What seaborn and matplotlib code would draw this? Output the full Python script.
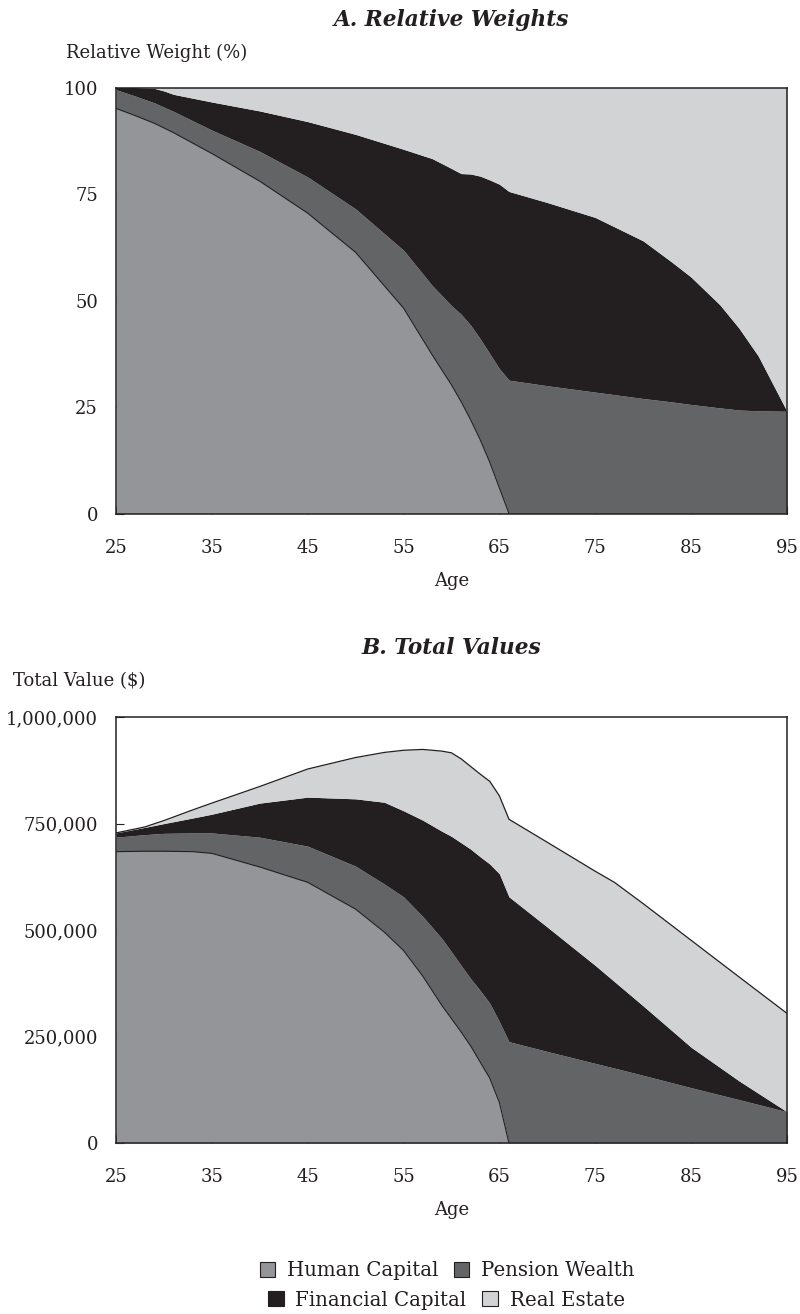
import numpy as np
import matplotlib
matplotlib.use("Agg")
import matplotlib.pyplot as plt
from matplotlib.patches import Patch
from matplotlib.ticker import FuncFormatter
import seaborn as sns

# ---------------- data ----------------
series = ["Human Capital", "Pension Wealth", "Financial Capital", "Real Estate"]
colors = ["#939598", "#636466", "#231f20", "#d1d3d4"]

# Panel A: relative weights (%)
ages_a = [25, 27, 29, 30, 31, 35, 40, 45, 50, 55, 58, 60, 61, 62, 63, 64, 65, 66,
          70, 75, 80, 83, 85, 88, 90, 92, 95]
human_a = [95.1, 93.4, 91.6, 90.5, 89.4, 84.5, 78.0, 70.5, 61.3, 48.2, 37.2, 30.2, 26.3,
           22.0, 17.3, 12.0, 6.0, 0.0, 0, 0, 0, 0, 0, 0, 0, 0, 0]
pension_a = [4.4, 4.6, 4.8, 4.9, 5.0, 5.5, 7.0, 8.5, 10.2, 13.6, 16.3, 18.6, 20.5,
             22.2, 23.7, 25.5, 28.0, 31.3, 30.0, 28.5, 27.0, 26.2, 25.6, 24.8, 24.3, 24.1, 24.0]
financial_a = [0.5, 2.0, 3.4, 3.8, 4.0, 6.6, 9.5, 13.0, 17.5, 23.7, 29.8, 32.2, 33.0,
               35.5, 38.2, 40.8, 43.3, 44.3, 43.0, 41.0, 37.0, 32.8, 29.9, 24.2, 19.2, 12.9, 0.0]
realestate_a = [0.0, 0.0, 0.2, 0.8, 1.6, 3.4, 5.5, 8.0, 11.0, 14.5, 16.7, 19.0, 20.2,
                20.3, 20.8, 21.7, 22.7, 24.4, 27.0, 30.5, 36.0, 41.0, 44.5, 51.0, 56.5, 63.0, 76.0]

# Panel B: total values ($ thousands)
ages_b = [25, 28, 30, 33, 35, 40, 45, 50, 53, 55, 57, 59, 60, 61, 62, 63, 64, 65, 66,
          70, 75, 77, 80, 85, 90, 95]
human_b = [684, 685, 685, 684, 680, 648, 612, 549, 495, 452, 392, 323, 292, 261, 228,
           190, 152, 95, 0, 0, 0, 0, 0, 0, 0, 0]
pension_b = [34, 39, 42, 44, 48, 70, 85, 101, 113, 126, 140, 157, 157, 156, 158, 168,
             176, 190, 238, 215, 187, 176, 159, 130, 102, 73.5]
financial_b = [10, 17, 23, 35, 44, 80, 115, 158, 192, 202, 226, 252, 271, 288, 304, 314,
               327, 347, 340, 292, 230, 203, 163, 95, 44, 0]
realestate_b = [0, 1, 7, 19, 26, 39, 66, 97, 117, 142, 166, 188, 196, 197, 194, 194,
                194, 183, 182, 199, 221, 233, 240, 251, 244, 231]

xticks = [25, 35, 45, 55, 65, 75, 85, 95]
yticks_a = [0, 25, 50, 75, 100]
yticks_b = [0, 250000, 500000, 750000, 1000000]

# ---------------- style ----------------
sns.set_style("white")
plt.rcParams["font.family"] = ["DejaVu Serif"]
FS = 13
INK = "#231f20"

fig = plt.figure(figsize=(8, 13.14), dpi=100)
axA = fig.add_axes([0.145, 0.6092, 0.8387, 0.3242])
axB = fig.add_axes([0.145, 0.1301, 0.8387, 0.3242])


def draw(ax, ages, layers, scale, hc_line, total_line):
    ages = np.asarray(ages, float)
    layers = [np.asarray(l, float) * scale for l in layers]
    ax.stackplot(ages, *layers, colors=colors, linewidth=0, zorder=1)
    hc = layers[0]
    k = int(np.argmax(hc <= 0)) + 1
    if hc_line:
        sns.lineplot(x=ages[:k], y=hc[:k], color=INK, lw=0.8, ax=ax, zorder=3)
    if total_line:
        tot = np.sum(layers, axis=0)
        sns.lineplot(x=ages, y=tot, color=INK, lw=0.9, ax=ax, zorder=3)


draw(axA, ages_a, [human_a, pension_a, financial_a, realestate_a], 1.0, True, False)
draw(axB, ages_b, [human_b, pension_b, financial_b, realestate_b], 1000.0, True, True)

for ax, yt in ((axA, yticks_a), (axB, yticks_b)):
    ax.set_xlim(25, 95)
    ax.set_xticks(xticks)
    ax.set_yticks(yt)
    ax.set_ylim(yt[0], yt[-1])
    ax.set_axisbelow(True)
    ax.tick_params(axis="y", direction="in", length=6, width=0.8, color=INK,
                   labelsize=FS, pad=13, left=True, labelcolor=INK)
    ax.tick_params(axis="x", direction="in", length=6, width=0.8, color=INK,
                   labelsize=FS, pad=18, bottom=True, labelcolor=INK)
    for s in ax.spines.values():
        s.set_visible(True)
        s.set_color(INK)
        s.set_linewidth(1.1)
        s.set_zorder(4)
    ax.set_xlabel("")
    ax.set_ylabel("")
    ax.grid(False)

axB.yaxis.set_major_formatter(FuncFormatter(lambda v, p: f"{int(v):,}"))

H = 1314.0
TFS = 15.6
fig.text(451.5 / 800, 1 - 20 / H, "A. Relative Weights", ha="center", va="center",
         fontsize=TFS, fontweight="bold", fontstyle="italic", color=INK)
fig.text(66 / 800, 1 - 53 / H, "Relative Weight (%)", ha="left", va="center",
         fontsize=FS, color=INK)
fig.text(451.5 / 800, 1 - 581 / H, "Age", ha="center", va="center", fontsize=FS, color=INK)

fig.text(451.5 / 800, 1 - 648 / H, "B. Total Values", ha="center", va="center",
         fontsize=TFS, fontweight="bold", fontstyle="italic", color=INK)
fig.text(13 / 800, 1 - 681 / H, "Total Value ($)", ha="left", va="center",
         fontsize=FS, color=INK)
fig.text(451.5 / 800, 1 - 1210 / H, "Age", ha="center", va="center", fontsize=FS, color=INK)

handles = [Patch(facecolor=c, edgecolor=INK, linewidth=0.8, label=s)
           for s, c in zip(series, colors)]
common = dict(ncol=2, frameon=False, fontsize=14.2, handlelength=0.78, handleheight=0.78,
              handletextpad=0.6, columnspacing=0.8, loc="center", borderpad=0,
              labelcolor=INK)
fig.legend(handles=handles[:2], bbox_to_anchor=(447 / 800, 1 - 1271 / H), **common)
fig.legend(handles=handles[2:], bbox_to_anchor=(446.5 / 800, 1 - 1300 / H), **common)

fig.savefig("out.png", dpi=100, facecolor="white")
